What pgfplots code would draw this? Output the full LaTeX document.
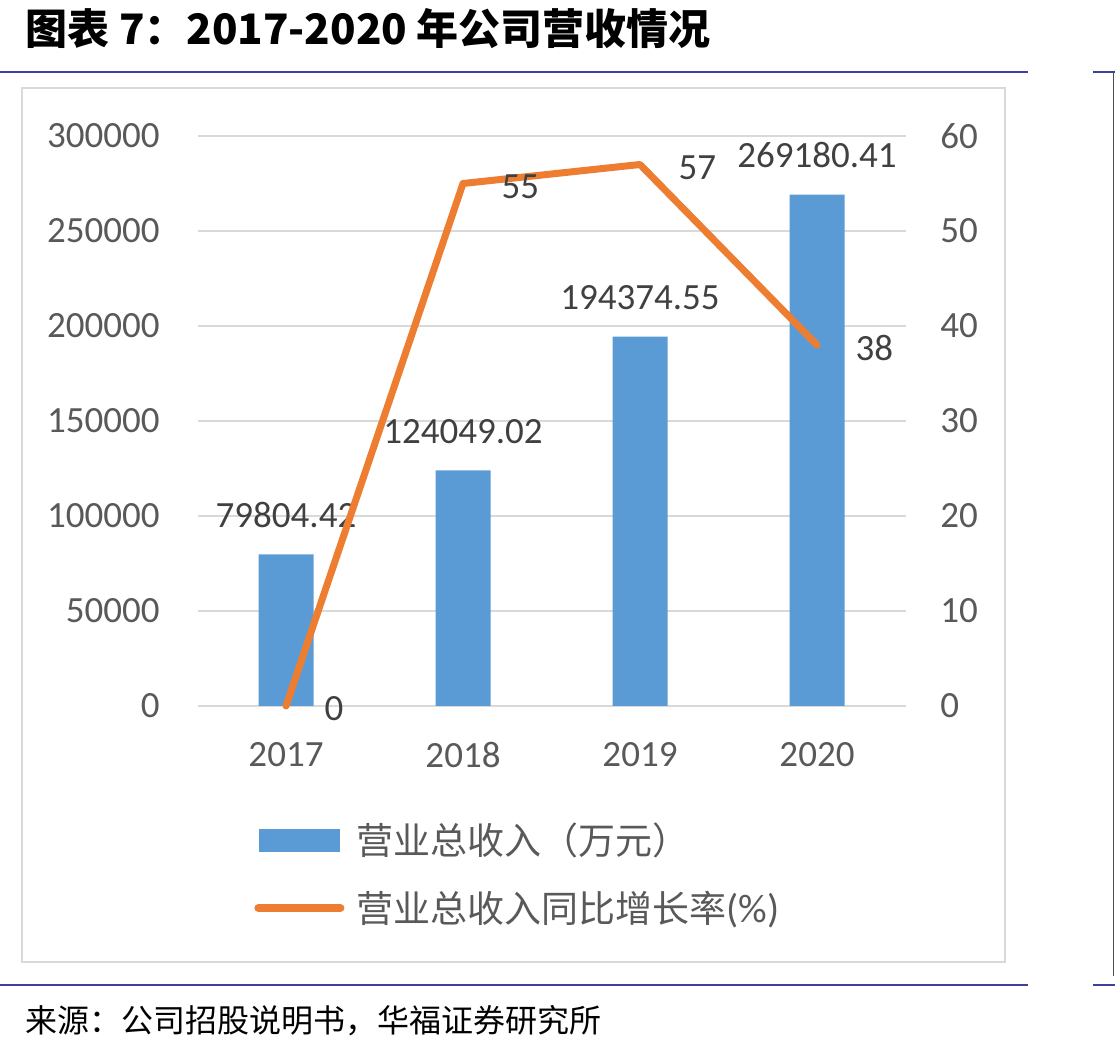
\documentclass[border=0pt]{standalone}
\usepackage{fontspec}
\usepackage{pgfplots}
\usepackage{pgfplotstable}
\pgfplotsset{compat=1.18}
\setmainfont{Carlito}
\newfontfamily\cjk{Noto Sans CJK SC}
\definecolor{barblue}{HTML}{5B9BD5}
\definecolor{lineorange}{HTML}{ED7D31}
\definecolor{ticktext}{HTML}{595959}
\definecolor{labeltext}{HTML}{404040}
\definecolor{gridgray}{HTML}{D9D9D9}
\definecolor{framegray}{HTML}{D9D9D9}
\definecolor{rulenavy}{HTML}{3F3F9F}

% revenue (10k CNY) and year-on-year growth (%)
\pgfplotstableread{
x rev label
0 79804.42 79804.42
1 124049.02 124049.02
2 194374.55 194374.55
3 269180.41 269180.41
}\revenue
\pgfplotstableread{
x growth
0 0
1 55
2 57
3 38
}\growth

\begin{document}
\begin{tikzpicture}[x=1pt,y=1pt]
\useasboundingbox (0,0) rectangle (557.5,525);
% heading
\node[anchor=west, inner sep=0pt, font=\cjk\bfseries\fontsize{21}{25}\selectfont]
  at (12.5,510.5) {图表 7：2017-2020 年公司营收情况};
% rules
\draw[rulenavy, line width=1.2pt] (0,489) -- (514,489);
\draw[rulenavy, line width=1.2pt] (546.5,489) -- (557.5,489);
\draw[rulenavy, line width=1.2pt] (0,32.5) -- (514,32.5);
\draw[rulenavy, line width=1.2pt] (546.5,32.5) -- (557.5,32.5);
\draw[black!70, line width=0.5pt] (556.8,489) -- (556.8,37);
% chart frame
\draw[framegray, line width=1pt] (11,481) rectangle (502.5,44);
% source
\node[anchor=west, inner sep=0pt, font=\cjk\fontsize{16}{19}\selectfont]
  at (12.5,14.5) {来源：公司招股说明书，华福证券研究所};

\begin{axis}[
  at={(98.75pt,172pt)}, anchor=south west,
  scale only axis, width=354pt, height=285pt,
  xmin=-0.5, xmax=3.5, ymin=0, ymax=300000,
  axis line style={draw=none},
  xtick={0,1,2,3}, xticklabels={2017,2018,2019,2020},
  ytick={0,50000,...,300000},
  major tick length=0pt,
  ymajorgrids, grid style={gridgray, line width=1pt},
  scaled y ticks=false,
  /pgf/number format/fixed,
  /pgf/number format/1000 sep={},
  /pgf/number format/assume math mode=true,
  tick label style={font=\fontsize{18.5}{22}\selectfont, text=ticktext, inner sep=0pt},
  yticklabel style={anchor=east, xshift=-18.75pt},
  xticklabel style={anchor=north, yshift=-18pt},
]
\addplot[ybar, bar width=27.5pt, fill=barblue, draw=none,
  nodes near coords, point meta=explicit symbolic,
  every node near coord/.append style={anchor=south, yshift=13pt, inner sep=0pt,
    font=\fontsize{18.5}{22}\selectfont, text=labeltext}]
  table[x=x, y=rev, meta=label] {\revenue};
\end{axis}

\begin{axis}[
  at={(98.75pt,172pt)}, anchor=south west,
  scale only axis, width=354pt, height=285pt,
  xmin=-0.5, xmax=3.5, ymin=0, ymax=60,
  hide x axis, axis y line*=right, axis line style={draw=none},
  ytick={0,10,...,60}, major tick length=0pt,
  clip=false,
  /pgf/number format/fixed,
  /pgf/number format/assume math mode=true,
  tick label style={font=\fontsize{18.5}{22}\selectfont, text=ticktext, inner sep=0pt},
  yticklabel style={anchor=west, xshift=17.25pt},
  legend style={draw=none, fill=none,
    at={(axis description cs:0.0713,-0.198)}, anchor=north west,
    row sep=16.5pt, column sep=6pt, nodes={inner sep=0pt},
    font=\cjk\fontsize{18.5}{22}\selectfont, text=ticktext},
  legend cell align=left,
]
\addlegendimage{legend image code/.code={
    \path[draw=none, fill=none] (0pt,-5.5pt) rectangle (45pt,5.5pt);
    \fill[barblue] (2.5pt,-5.5pt) rectangle (42.5pt,5.5pt);}}
\addlegendentry{营业总收入（万元）}
\addplot[lineorange, line width=3.5pt, line cap=round, line join=round,
  nodes near coords,
  every node near coord/.append style={anchor=west, xshift=17.5pt, yshift=-1.5pt,
    inner sep=0pt, font=\fontsize{18.5}{22}\selectfont, text=labeltext},
  legend image code/.code={
    \path[draw=none, fill=none] (0pt,-5.5pt) rectangle (45pt,5.5pt);
    \draw[lineorange, line width=4pt, line cap=round] (2pt,0pt) -- (43pt,0pt);}]
  table[x=x, y=growth] {\growth};
\addlegendentry{营业总收入同比增长率{\rmfamily\fontsize{20}{24}\selectfont (\%)}}
\end{axis}
\end{tikzpicture}
\end{document}
